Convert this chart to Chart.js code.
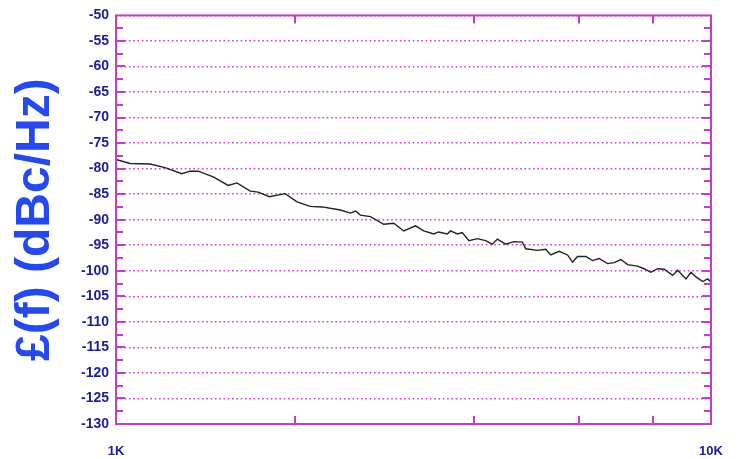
<!DOCTYPE html>
<html>
<head>
<meta charset="utf-8">
<script src="https://cdn.jsdelivr.net/npm/chart.js@4/dist/chart.umd.min.js"></script>
<style>
  html, body { margin: 0; padding: 0; background: #fff; }
  #wrap { width: 738px; height: 459px; }
</style>
</head>
<body>
<div id="wrap"><canvas id="noise"></canvas></div>
<script>
// offset frequency (Hz) and phase noise (dBc/Hz)
let freqs = [1000,1056,1141,1209,1290,1332,1374,1457,1544,1597,1681,1734,1810,
  1925,2015,2121,2220,2383,2477,2526,2575,2677,2818,2930,3045,3187,
  3291,3421,3484,3603,3650,3746,3819,3919,4048,4181,4291,4375,4518,4666,4820,
  4882,5109,5276,5379,5555,5740,5852,5966,6160,6322,6486,6701,6875,7056,7241,
  7524,7721,7924,8133,8345,8621,8790,9077,9254,9434,9683,9872,10000]
let levels = [-78.2,-79.0,-79.1,-79.8,-81.0,-80.5,-80.5,-81.6,-83.3,-82.8,-84.4,-84.6,-85.5,
  -84.9,-86.5,-87.4,-87.5,-88.1,-88.7,-88.3,-89.1,-89.4,-90.9,-90.7,-92.2,-91.2,
  -92.2,-92.8,-92.4,-92.8,-92.2,-92.8,-92.5,-94.1,-93.7,-94.1,-94.8,-93.8,-94.8,-94.3,-94.4,
  -95.7,-96.0,-95.8,-96.9,-96.2,-96.9,-98.3,-97.2,-97.2,-98.0,-97.6,-98.6,-98.4,-97.8,-98.8,
  -99.1,-99.6,-100.3,-99.6,-99.7,-100.9,-99.9,-101.6,-100.3,-101.2,-102.1,-101.6,-102.2]
let xTicks = [1000,2000,4000,6000,8000,10000]
let xLabels = {1000:'1K', 10000:'10K'}

let pink = '#c53ccb'
let labelBlue = '#1c1c9c'

// frame plus the short ticks that point into the plot
let frameTicks = {
  id:'frameTicks',
  afterDraw(chart){
    let c = chart.ctx, a = chart.chartArea
    let x = chart.scales.x, y = chart.scales.y
    c.save()
    c.strokeStyle = pink
    c.lineWidth = 2
    c.strokeRect(a.left, a.top, a.right-a.left, a.bottom-a.top)
    c.beginPath()
    for (let v=-127.5; v<-50; v+=2.5) {
      let py = Math.round(y.getPixelForValue(v))
      let len = (v % 5 === 0) ? 9 : 7
      c.moveTo(a.left, py); c.lineTo(a.left+len, py)
      c.moveTo(a.right, py); c.lineTo(a.right-len, py)
    }
    xTicks.slice(1,-1).forEach(f => {
      let px = Math.round(x.getPixelForValue(f))
      c.moveTo(px, a.top); c.lineTo(px, a.top+8)
      c.moveTo(px, a.bottom); c.lineTo(px, a.bottom-8)
    })
    c.stroke()
    c.restore()
  }
}

let ctx = document.querySelector('#noise').getContext('2d')

let chart = new Chart(ctx, {
  type:'line',
  data:{
    datasets:[{
      data: freqs.map((f,i) => ({x:f, y:levels[i]})),
      borderColor:'#222',
      borderWidth:1.4,
      pointRadius:0,
      tension:0
    }]
  },
  options:{
    responsive:true,
    maintainAspectRatio:false,
    animation:false,
    layout:{ padding:{ top:13, right:27, bottom:0, left:0 } },
    plugins:{ legend:{display:false}, tooltip:{enabled:false} },
    scales:{
      x:{
        type:'logarithmic',
        min:1000, max:10000,
        afterBuildTicks(s){ s.ticks = xTicks.map(v => ({value:v})) },
        afterFit(s){ s.height = 35; s.paddingLeft = 0; s.paddingRight = 0 },
        grid:{ display:false, drawTicks:false },
        border:{ display:false },
        ticks:{
          autoSkip:false, maxRotation:0, padding:20,
          color:labelBlue,
          font:{ family:'Liberation Sans', size:13, weight:'bold' },
          callback:(v) => xLabels[v] || ''
        }
      },
      y:{
        min:-130, max:-50,
        afterFit(s){ s.width = 116 },
        grid:{ color:'#d23ed2', lineWidth:1.6, drawTicks:false },
        border:{ display:false, dash:[1.6,2.7] },
        ticks:{
          stepSize:5, padding:7,
          color:labelBlue,
          font:{ family:'Liberation Sans', size:14, weight:'bold' }
        },
        title:{
          display:true,
          text:'£(f) (dBc/Hz)',
          color:'#2348f4',
          font:{ family:'Liberation Sans', size:48, weight:'bold', lineHeight:1 },
          padding:{ top:12, bottom:0 }
        }
      }
    }
  },
  plugins:[frameTicks]
})
</script>
</body>
</html>
